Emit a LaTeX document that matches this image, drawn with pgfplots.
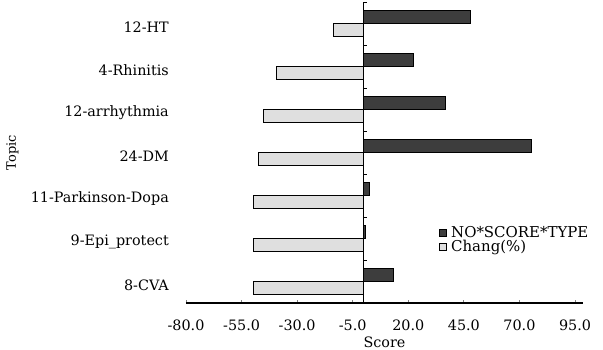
\documentclass[border=0pt]{standalone}
\usepackage{pgfplots}
\pgfplotsset{compat=1.18}
\usepackage{fontspec}
\setmainfont{DejaVu Serif}
\newcommand\bigf{\fontsize{14.4}{16}\selectfont}
\newcommand\legf{\fontsize{15}{17}\selectfont}
\newcommand\midf{\fontsize{13}{15}\selectfont}
\begin{document}
\begin{tikzpicture}[font=\bigf]
\useasboundingbox (-186bp,-47bp) rectangle (417bp,303bp);
\begin{axis}[
  at={(0,0)}, anchor=south west,
  scale only axis, width=397bp, height=301bp,
  xmin=-80, xmax=98.6, ymin=-0.5, ymax=6.5,
  axis x line*=bottom, axis y line*=left,
  y axis line style={draw=none},
  x axis line style={line width=1.1bp},
  xtick={-80,-55,...,95},
  tick align=inside, major tick length=3bp,
  xtick style={line width=0.8bp},
  ytick={0,...,6},
  yticklabels={8-CVA,9-Epi\_protect,11-Parkinson-Dopa,24-DM,12-arrhythmia,4-Rhinitis,12-HT},
  ytick style={draw=none},
  tick label style={font=\bigf},
  /pgf/number format/assume math mode=true,
  xticklabel style={inner sep=0pt, /pgf/number format/.cd, fixed, fixed zerofill, precision=1},
  xticklabel shift=17bp,
  yticklabel style={inner sep=0pt, yshift=-3.5bp},
  yticklabel shift=14bp,
  xlabel={Score},
  xlabel style={font=\bigf, inner sep=0pt, yshift=-6bp},
  ylabel={Topic},
  ylabel style={font=\midf, inner sep=0pt, yshift=12bp},
  xbar, bar width=12.5bp,
  legend style={font=\legf, at={(rel axis cs:0.637,0.258)}, anchor=north west, draw=none, fill=none, inner sep=0pt, row sep=0.3bp, column sep=4bp, nodes={inner sep=0.5bp}},
  legend cell align=left,
]
\addplot[bar shift=6.5bp, fill=black!76, draw=black, line width=1bp,
  legend image code/.code={\draw[fill=black!76, line width=0.6bp] (0bp,-3.5bp) rectangle (7bp,3.5bp);}]
  coordinates {(13.5,0) (0.8,1) (2.6,2) (75.6,3) (36.8,4) (22.5,5) (48.0,6)};
\addplot[bar shift=-6.5bp, fill=gray!25, draw=black, line width=1.2bp,
  legend image code/.code={\draw[fill=gray!25, line width=0.6bp] (0bp,-3.5bp) rectangle (7bp,3.5bp);}]
  coordinates {(-49.6,0) (-49.5,1) (-49.5,2) (-47.3,3) (-45.2,4) (-39.2,5) (-13.6,6)};
\legend{NO*SCORE*TYPE, Chang(\%)}
\draw[line width=1.1bp] (axis cs:0,-0.5) -- (axis cs:0,6.5);
\draw[line width=0.8bp] (axis cs:0,6.5) -- (axis cs:1.4,6.5);
\draw[line width=0.8bp] (axis cs:0,5.5) -- (axis cs:1.4,5.5);
\draw[line width=0.8bp] (axis cs:0,4.5) -- (axis cs:1.4,4.5);
\draw[line width=0.8bp] (axis cs:0,3.5) -- (axis cs:1.4,3.5);
\draw[line width=0.8bp] (axis cs:0,2.5) -- (axis cs:1.4,2.5);
\draw[line width=0.8bp] (axis cs:0,1.5) -- (axis cs:1.4,1.5);
\draw[line width=0.8bp] (axis cs:0,0.5) -- (axis cs:1.4,0.5);
\end{axis}
\end{tikzpicture}
\end{document}
